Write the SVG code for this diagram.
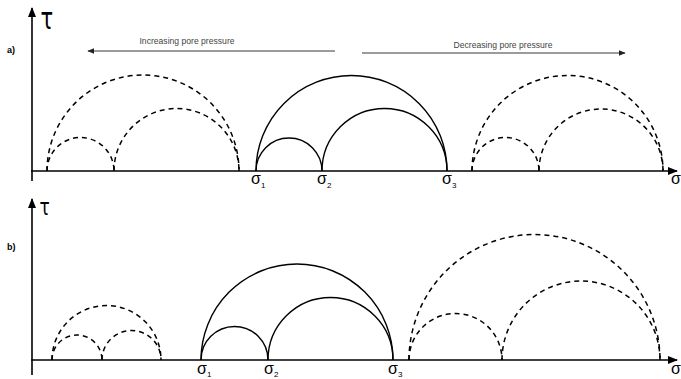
<svg xmlns="http://www.w3.org/2000/svg" width="681" height="379" viewBox="0 0 681 379">
<style>
.axis{stroke:#000;stroke-width:1.6;fill:none}
.solid{stroke:#000;stroke-width:1.4;fill:none}
.dash{stroke:#000;stroke-width:1.5;fill:none;stroke-dasharray:5 4}
.thin{stroke:#222;stroke-width:0.9;fill:none}
.lab{font-family:"Liberation Sans",Arial,sans-serif;fill:#000}
.tau{font-family:"DejaVu Sans",sans-serif;fill:#000}
.note{font-family:"Liberation Sans",Arial,sans-serif;font-size:8.6px;fill:#444;text-anchor:middle}
.sig{font-family:"Liberation Sans",Arial,sans-serif;font-size:16px;fill:#000}
.sub{font-family:"Liberation Sans",Arial,sans-serif;font-size:8px;fill:#000}
</style>
<defs>
<marker id="sh" viewBox="0 0 10 10" refX="9" refY="5" markerWidth="7" markerHeight="7" markerUnits="userSpaceOnUse" orient="auto">
<path d="M0 1 L10 5 L0 9 Z" fill="#222"/>
</marker>
<marker id="axh" viewBox="0 0 10 10" refX="9" refY="5" markerWidth="10" markerHeight="10" markerUnits="userSpaceOnUse" orient="auto">
<path d="M0 1 L10 5 L0 9 Z" fill="#000"/>
</marker>
</defs>

<g id="connectors">
<line class="axis" x1="32" y1="181" x2="32" y2="8" marker-end="url(#axh)"/>
<line class="axis" x1="31" y1="171" x2="677" y2="171" marker-end="url(#axh)"/>
<line class="axis" x1="32" y1="375" x2="32" y2="199" marker-end="url(#axh)"/>
<line class="axis" x1="31" y1="360" x2="677" y2="360" marker-end="url(#axh)"/>
<line class="thin" x1="335" y1="51" x2="88" y2="51" marker-end="url(#sh)"/>
<line class="thin" x1="362" y1="53" x2="625" y2="53" marker-end="url(#sh)"/>
</g>

<g id="labels">
<text class="tau" transform="translate(40.5,29) scale(1,1.4)" font-size="21">τ</text>
<text class="tau" transform="translate(39.5,215) scale(1,1.4)" font-size="17">τ</text>
<text class="lab" x="7" y="53" font-size="9" font-weight="bold">a)</text>
<text class="lab" x="7" y="250" font-size="9" font-weight="bold">b)</text>
<text class="note" x="187" y="44">Increasing pore pressure</text>
<text class="note" x="503" y="48">Decreasing pore pressure</text>
<text class="sig" x="671" y="184" font-size="15">σ</text>
<text class="sig" x="671" y="374" font-size="15">σ</text>
</g>

<g id="panel-a-left-dashed">
<path class="dash" d="M47 171 A96 96 0 0 1 239 171"/>
<path class="dash" d="M47 171 A33.5 33.5 0 0 1 114 171"/>
<path class="dash" d="M114 171 A62.5 62.5 0 0 1 239 171"/>
</g>

<g id="panel-a-solid">
<path class="solid" d="M256 171 A95.5 95.5 0 0 1 447 171"/>
<path class="solid" d="M256 171 A33 33 0 0 1 322 171"/>
<path class="solid" d="M322 171 A62.5 62.5 0 0 1 447 171"/>
<text class="sig" x="251" y="184">σ<tspan class="sub" dy="4">1</tspan></text>
<text class="sig" x="317" y="184">σ<tspan class="sub" dy="4">2</tspan></text>
<text class="sig" x="442" y="184">σ<tspan class="sub" dy="4">3</tspan></text>
</g>

<g id="panel-a-right-dashed">
<path class="dash" d="M472 171 A95.5 95.5 0 0 1 663 171"/>
<path class="dash" d="M472 171 A33.5 33.5 0 0 1 539 171"/>
<path class="dash" d="M539 171 A62 62 0 0 1 663 171"/>
</g>

<g id="panel-b-left-dashed">
<path class="dash" d="M52 360 A54.5 54.5 0 0 1 161 360"/>
<path class="dash" d="M52 360 A25 25 0 0 1 102 360"/>
<path class="dash" d="M102 360 A29.5 29.5 0 0 1 161 360"/>
</g>

<g id="panel-b-solid">
<path class="solid" d="M201 360 A96 96 0 0 1 393 360"/>
<path class="solid" d="M201 360 A33.5 33.5 0 0 1 268 360"/>
<path class="solid" d="M268 360 A62.5 62.5 0 0 1 393 360"/>
<text class="sig" x="197" y="374">σ<tspan class="sub" dy="3" font-size="6">1</tspan></text>
<text class="sig" x="264" y="374">σ<tspan class="sub" dy="3" font-size="6">2</tspan></text>
<text class="sig" x="388" y="374">σ<tspan class="sub" dy="3" font-size="6">3</tspan></text>
</g>

<g id="panel-b-right-dashed">
<path class="dash" d="M409 360 A125.5 125.5 0 0 1 660 360"/>
<path class="dash" d="M409 360 A46.5 46.5 0 0 1 502 360"/>
<path class="dash" d="M502 360 A79 79 0 0 1 660 360"/>
</g>
</svg>
